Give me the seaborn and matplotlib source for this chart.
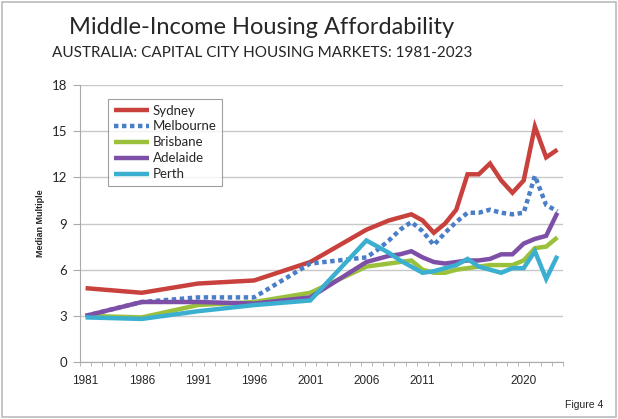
import pandas as pd
import matplotlib.pyplot as plt
import seaborn as sns
from matplotlib.patches import Rectangle

# Data (median multiple)
years = [1981, 1986, 1991, 1996, 2001, 2006, 2007, 2008, 2009, 2010, 2011, 2012,
         2013, 2014, 2015, 2016, 2017, 2018, 2019, 2020, 2021, 2022, 2023]
sydney = [4.8, 4.5, 5.1, 5.3, 6.5, 8.6, 8.9, 9.2, 9.4, 9.6, 9.2, 8.4,
          9.0, 9.9, 12.2, 12.2, 12.9, 11.8, 11.0, 11.8, 15.3, 13.3, 13.8]
melbourne = [3.0, 3.9, 4.2, 4.2, 6.4, 6.8, 7.3, 7.9, 8.6, 9.1, 8.5, 7.6,
             8.4, 9.1, 9.7, 9.7, 9.9, 9.7, 9.6, 9.7, 12.1, 10.2, 9.8]
brisbane = [3.0, 2.9, 3.7, 3.9, 4.5, 6.2, 6.3, 6.4, 6.5, 6.6, 6.0, 5.8,
            5.8, 6.0, 6.1, 6.2, 6.3, 6.3, 6.3, 6.6, 7.4, 7.5, 8.1]
adelaide = [3.0, 3.9, 3.9, 3.8, 4.2, 6.5, 6.7, 6.9, 7.0, 7.2, 6.8, 6.5,
            6.4, 6.5, 6.6, 6.6, 6.7, 7.0, 7.0, 7.7, 8.0, 8.2, 9.7]
perth = [2.9, 2.8, 3.3, 3.7, 4.0, 7.9, 7.5, 7.1, 6.6, 6.2, 5.8, 5.9,
         6.1, 6.3, 6.7, 6.2, 6.0, 5.8, 6.1, 6.1, 7.2, 5.4, 6.9]

cities = ['Sydney', 'Melbourne', 'Brisbane', 'Adelaide', 'Perth']
colors = ['#c8413c', '#4a7ec7', '#9bc13c', '#7d4fa6', '#3bafd0']
x_labels = ['1981', '1986', '1991', '1996', '2001', '2006', '2011', '2020']
y_ticks = [0, 3, 6, 9, 12, 15, 18]

df = pd.DataFrame({'year': years, 'Sydney': sydney, 'Melbourne': melbourne,
                   'Brisbane': brisbane, 'Adelaide': adelaide, 'Perth': perth})
long = df.melt(id_vars='year', var_name='city', value_name='multiple')

sns.set_style('white')
plt.rcParams['font.family'] = ['Liberation Sans', 'DejaVu Sans']

fig = plt.figure(figsize=(6.18, 4.19), dpi=100)
ax = fig.add_axes([0.1294, 0.136, 0.7816, 0.661])

for city, col in zip(cities, colors):
    sub = long[long['city'] == city]
    ls = (0, (1.0, 0.8)) if city == 'Melbourne' else '-'
    sns.lineplot(data=sub, x='year', y='multiple', ax=ax, color=col,
                 linewidth=3.2, linestyle=ls, label=city,
                 solid_joinstyle='miter', solid_capstyle='butt',
                 dash_capstyle='butt')

ax.set_xlim(1980.5, 2023.5)
ax.set_ylim(0, 18)
ax.set_yticks(y_ticks)
ax.set_xticks([int(v) for v in x_labels])
ax.set_xticklabels(x_labels)
ax.set_xticks([1980.5 + k for k in range(44)], minor=True)
ax.grid(axis='y', color='#c8c8c8', linewidth=1.0)
ax.set_axisbelow(True)
for s in ['top', 'right']:
    ax.spines[s].set_visible(False)
for s in ['left', 'bottom']:
    ax.spines[s].set_color('#aaaaaa')
    ax.spines[s].set_linewidth(0.8)
ax.tick_params(axis='y', left=True, length=5, color='#aaaaaa', labelsize=9.5, pad=4)
ax.tick_params(axis='x', which='major', bottom=False, labelsize=8.5, pad=6)
ax.tick_params(axis='x', which='minor', bottom=True, length=3, color='#aaaaaa')
for t in ax.get_yticklabels():
    t.set_family(['Lato', 'DejaVu Sans'])
ax.set_xlabel('')
ax.set_ylabel('Median Multiple', fontsize=6.5, fontweight='bold', labelpad=5)

leg = ax.legend(loc='upper left', bbox_to_anchor=(0.045, 0.975),
                prop={'family': ['Lato', 'DejaVu Sans'], 'size': 9.5},
                frameon=True, fancybox=False, edgecolor='#888888',
                handlelength=2.6, handletextpad=0.3, labelspacing=0.3,
                borderpad=0.45)
leg.get_frame().set_linewidth(0.8)

fig.text(0.424, 0.935, 'Middle-Income Housing Affordability', ha='center',
         va='center', fontsize=17, family=['Lato', 'DejaVu Sans'])
fig.text(0.424, 0.873, 'AUSTRALIA: CAPITAL CITY HOUSING MARKETS: 1981-2023',
         ha='center', va='center', fontsize=11, family=['Lato', 'DejaVu Sans'])
fig.text(0.945, 0.033, 'Figure 4', ha='center', va='center', fontsize=7.5)

fig.patches.append(Rectangle((0.004, 0.004), 0.992, 0.992, transform=fig.transFigure,
                             fill=False, edgecolor='#bbbbbb', linewidth=1.2))

plt.savefig('out.png', dpi=100)
plt.close()
